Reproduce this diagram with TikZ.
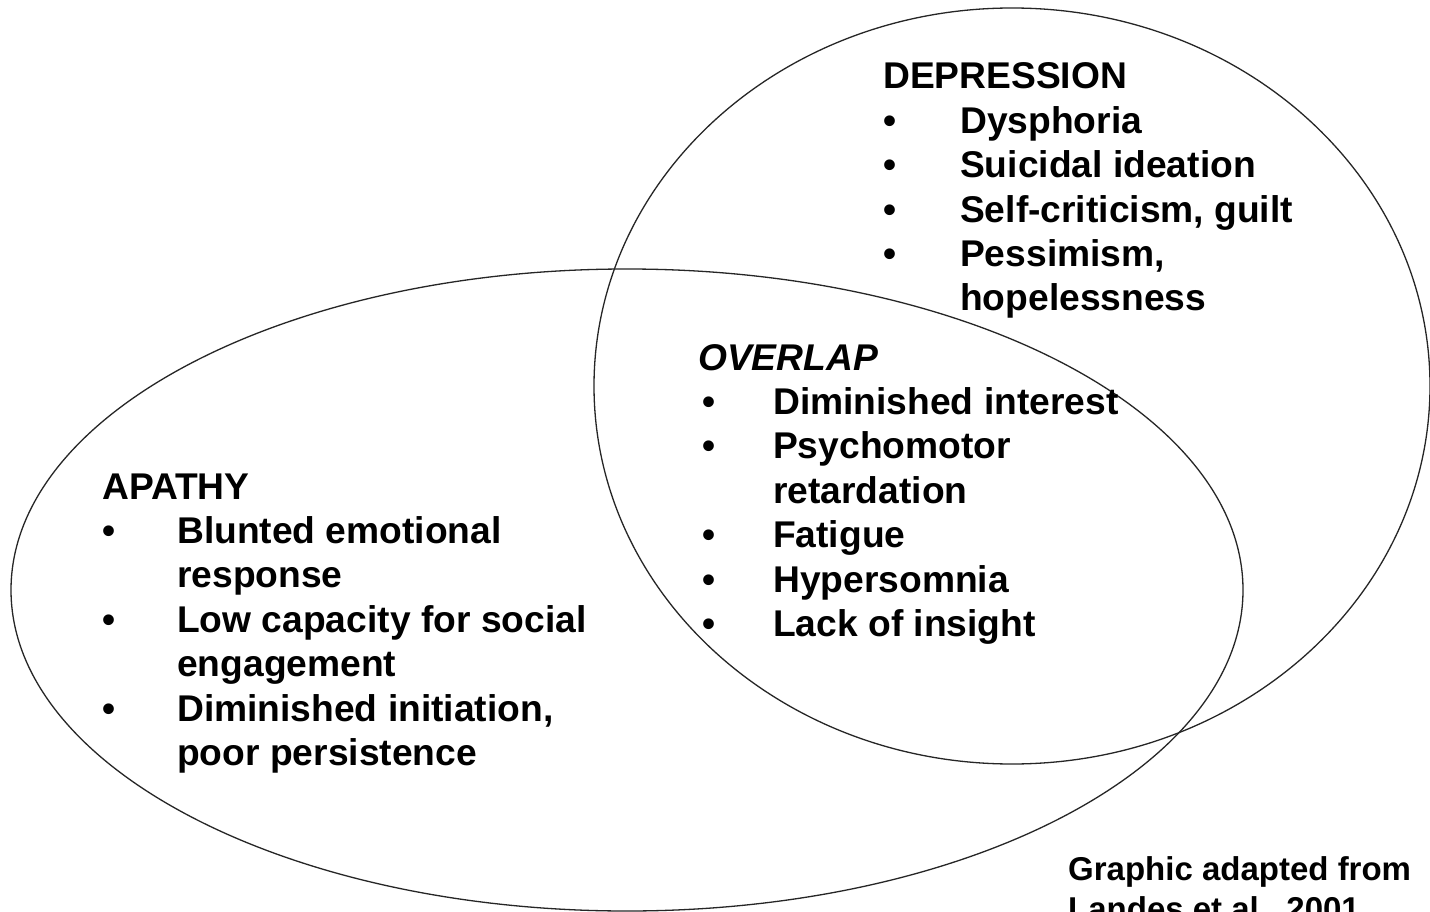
\documentclass[tikz,border=0pt]{standalone}
\usepackage{fontspec}
\setmainfont{Liberation Sans}
\usepackage{array}
\tikzset{
  venn/.style={draw=black!85, line width=1.3pt},
  listtext/.style={inner sep=0pt, anchor=base west, font=\bfseries\fontsize{37.2}{44.4}\selectfont},
  credit/.style={inner sep=0pt, anchor=base west, align=left, font=\bfseries\fontsize{33}{40}\selectfont},
}
\newcommand{\bul}[1][0pt]{\hspace*{#1}\textbullet}
\begin{document}
\begin{tikzpicture}[x=1pt,y=-1pt]
\clip (0,0) rectangle (1430,912);
\fill[white] (0,0) rectangle (1430,912);
\draw[venn] (627,590) ellipse [x radius=616, y radius=321];
\draw[venn] (1012,386) ellipse [x radius=418, y radius=378];
\node[listtext] (dep) at (883,89) {\begin{tabular}[t]{@{}p{77pt}@{}l@{}}
\multicolumn{2}{@{}l@{}}{DEPRESSION}\\
\bul & Dysphoria\\
\bul & Suicidal ideation\\
\bul & Self-criticism, guilt\\
\bul & Pessimism,\\
 & hopelessness
\end{tabular}};
\node[listtext] (ovl) at (698,370) {\begin{tabular}[t]{@{}p{75pt}@{}l@{}}
\multicolumn{2}{@{}l@{}}{\itshape OVERLAP}\\
\bul[4pt] & Diminished interest\\
\bul[4pt] & Psychomotor\\
 & retardation\\
\bul[4pt] & Fatigue\\
\bul[4pt] & Hypersomnia\\
\bul[4pt] & Lack of insight
\end{tabular}};
\node[listtext] (apa) at (102,499) {\begin{tabular}[t]{@{}p{75pt}@{}l@{}}
\multicolumn{2}{@{}l@{}}{APATHY}\\
\bul & Blunted emotional\\
 & response\\
\bul & Low capacity for social\\
 & engagement\\
\bul & Diminished initiation,\\
 & poor persistence
\end{tabular}};
\node[credit] (src) at (1068,920) {Graphic adapted from\\Landes et al., 2001};
\end{tikzpicture}
\end{document}
